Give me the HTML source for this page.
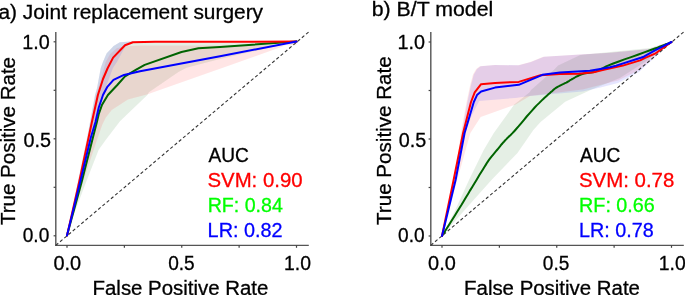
<!DOCTYPE html>
<html><head><meta charset="utf-8">
<style>
html,body{margin:0;padding:0;background:#fff;width:685px;height:295px;overflow:hidden}
svg{display:block;will-change:transform}
text{font-family:"Liberation Sans",sans-serif;font-size:20px;stroke:currentColor;stroke-width:0.3px}
</style></head><body>
<svg width="685" height="295" viewBox="0 0 685 295">
<polygon fill="#006400" fill-opacity="0.1" points="67.0,235.6 78.0,181.0 87.0,138.0 90.0,122.0 95.0,95.0 97.0,88.0 100.7,68.0 102.9,62.0 106.5,53.6 113.5,46.1 119.7,42.2 130.0,41.6 296.5,41.6 296.5,41.6 220.0,59.0 186.7,67.8 178.5,72.0 149.0,92.2 147.4,95.0 131.7,110.0 120.0,121.2 105.7,140.0 98.7,149.7 86.5,181.0 71.0,222.0 67.0,235.6"/>
<polygon fill="#ff0000" fill-opacity="0.1" points="67.0,235.6 78.5,181.0 88.0,138.0 91.0,122.0 96.0,95.0 102.0,75.0 105.6,62.0 110.0,54.0 117.0,48.0 125.8,46.2 140.0,45.6 296.5,45.0 296.5,41.6 230.0,65.2 147.0,94.6 128.0,99.5 111.8,110.0 105.7,117.7 102.1,125.3 97.0,140.0 83.4,181.0 67.0,235.6"/>
<polygon fill="#0000ff" fill-opacity="0.1" points="67.0,235.6 78.0,181.0 87.0,138.0 90.0,122.0 95.0,95.0 97.0,88.0 100.7,68.0 102.9,62.0 106.5,53.6 113.5,46.1 119.7,42.2 130.0,41.6 296.5,41.6 296.5,41.6 155.0,42.0 133.0,43.0 125.0,47.0 117.0,62.0 113.0,68.0 103.0,95.0 97.0,115.0 90.0,138.0 80.0,181.0 67.0,235.6"/>
<line x1="55.80" y1="32" x2="55.80" y2="246.1" stroke="#555" stroke-width="1.4"/>
<line x1="55.10" y1="245.4" x2="308.80" y2="245.4" stroke="#555" stroke-width="1.4"/>
<line x1="53.60" y1="235.80" x2="55.80" y2="235.80" stroke="#444" stroke-width="1.2"/>
<line x1="67.00" y1="245.3" x2="67.00" y2="247.8" stroke="#444" stroke-width="1.2"/>
<line x1="53.60" y1="187.30" x2="55.80" y2="187.30" stroke="#444" stroke-width="1.2"/>
<line x1="124.38" y1="245.3" x2="124.38" y2="247.8" stroke="#444" stroke-width="1.2"/>
<line x1="53.60" y1="138.80" x2="55.80" y2="138.80" stroke="#444" stroke-width="1.2"/>
<line x1="181.75" y1="245.3" x2="181.75" y2="247.8" stroke="#444" stroke-width="1.2"/>
<line x1="53.60" y1="90.30" x2="55.80" y2="90.30" stroke="#444" stroke-width="1.2"/>
<line x1="239.12" y1="245.3" x2="239.12" y2="247.8" stroke="#444" stroke-width="1.2"/>
<line x1="53.60" y1="41.80" x2="55.80" y2="41.80" stroke="#444" stroke-width="1.2"/>
<line x1="296.50" y1="245.3" x2="296.50" y2="247.8" stroke="#444" stroke-width="1.2"/>
<line x1="55.80" y1="245.3" x2="308.80" y2="31.9" stroke="#333" stroke-width="1.1" stroke-dasharray="3.2,2.35"/>
<polyline fill="none" stroke="#006400" stroke-width="2.0" stroke-linejoin="round" stroke-linecap="round" points="67.0,235.6 81.9,181.0 92.8,138.0 96.9,122.0 98.7,114.2 101.9,105.1 107.9,95.0 117.3,85.0 125.0,76.3 136.2,69.7 144.7,64.9 181.5,52.0 198.4,48.3 220.0,47.0 296.5,41.6"/>
<polyline fill="none" stroke="#ff0000" stroke-width="2.0" stroke-linejoin="round" stroke-linecap="round" points="67.0,235.6 79.4,181.0 88.5,138.0 91.9,122.0 97.9,95.0 103.0,79.0 107.5,68.5 113.1,57.6 125.0,45.2 132.9,42.3 155.0,41.7 296.5,41.6"/>
<polyline fill="none" stroke="#0000ff" stroke-width="2.0" stroke-linejoin="round" stroke-linecap="round" points="67.0,235.6 80.4,181.0 90.7,138.0 95.5,122.0 98.7,107.8 103.0,95.0 107.1,87.2 113.5,79.9 124.0,74.9 140.0,71.3 220.0,56.2 296.5,41.6"/>
<polygon fill="#006400" fill-opacity="0.1" points="442.0,236.0 455.3,210.0 469.0,180.0 483.7,150.0 493.8,133.0 514.2,104.6 529.6,92.2 531.0,90.0 553.4,70.2 558.0,65.5 580.2,55.0 610.0,52.0 650.0,48.0 665.0,43.2 671.5,42.0 671.5,42.0 645.0,62.0 620.0,78.0 591.7,89.4 565.2,101.7 540.6,122.0 533.4,130.0 517.5,152.9 491.5,180.0 465.6,209.0 442.0,236.0"/>
<polygon fill="#ff0000" fill-opacity="0.1" points="441.2,236.0 454.2,182.0 460.9,133.0 466.6,102.0 470.2,85.0 473.0,74.5 476.2,69.0 479.8,66.2 494.2,64.9 518.1,65.3 530.2,62.0 543.2,56.8 579.2,54.6 609.2,52.7 649.2,49.0 664.6,43.5 670.7,42.0 671.5,42.0 639.0,70.0 618.1,80.6 600.5,85.0 582.9,89.4 530.0,96.0 515.7,104.6 480.7,117.0 470.4,133.0 456.7,182.0 442.0,236.0"/>
<polygon fill="#0000ff" fill-opacity="0.1" points="442.0,236.0 455.0,182.0 461.7,133.0 467.4,102.0 471.0,85.0 473.8,74.5 477.0,69.0 480.6,66.2 495.0,64.9 518.9,65.3 531.0,62.0 544.0,56.8 580.0,54.6 610.0,52.7 650.0,49.0 665.4,43.5 671.5,42.0 671.5,42.0 639.0,72.0 618.1,83.0 600.5,87.5 582.9,91.5 530.0,96.0 515.7,98.0 479.2,100.9 472.0,115.0 465.0,133.0 455.0,182.0 442.0,236.0"/>
<line x1="430.80" y1="32" x2="430.80" y2="246.1" stroke="#555" stroke-width="1.4"/>
<line x1="430.10" y1="245.4" x2="683.80" y2="245.4" stroke="#555" stroke-width="1.4"/>
<line x1="428.60" y1="236.00" x2="430.80" y2="236.00" stroke="#444" stroke-width="1.2"/>
<line x1="442.00" y1="245.3" x2="442.00" y2="247.8" stroke="#444" stroke-width="1.2"/>
<line x1="428.60" y1="187.50" x2="430.80" y2="187.50" stroke="#444" stroke-width="1.2"/>
<line x1="499.38" y1="245.3" x2="499.38" y2="247.8" stroke="#444" stroke-width="1.2"/>
<line x1="428.60" y1="139.00" x2="430.80" y2="139.00" stroke="#444" stroke-width="1.2"/>
<line x1="556.75" y1="245.3" x2="556.75" y2="247.8" stroke="#444" stroke-width="1.2"/>
<line x1="428.60" y1="90.50" x2="430.80" y2="90.50" stroke="#444" stroke-width="1.2"/>
<line x1="614.12" y1="245.3" x2="614.12" y2="247.8" stroke="#444" stroke-width="1.2"/>
<line x1="428.60" y1="42.00" x2="430.80" y2="42.00" stroke="#444" stroke-width="1.2"/>
<line x1="671.50" y1="245.3" x2="671.50" y2="247.8" stroke="#444" stroke-width="1.2"/>
<line x1="430.80" y1="245.3" x2="683.80" y2="31.9" stroke="#333" stroke-width="1.1" stroke-dasharray="3.2,2.35"/>
<polyline fill="none" stroke="#006400" stroke-width="2.0" stroke-linejoin="round" stroke-linecap="round" points="442.0,236.0 444.2,232.5 446.4,229.0 448.6,225.5 450.8,222.0 453.0,218.5 455.2,215.0 457.3,211.5 459.5,208.0 461.7,204.5 463.8,200.9 466.0,197.3 468.2,193.7 470.3,190.1 472.4,186.7 474.5,183.3 476.5,180.0 478.1,177.3 479.7,174.6 481.3,172.0 482.9,169.4 484.4,167.0 485.9,164.6 487.3,162.3 488.8,160.2 489.9,158.7 490.9,157.4 491.9,156.1 493.0,154.8 494.0,153.6 495.0,152.4 496.0,151.2 497.0,150.0 498.0,148.8 499.0,147.6 500.0,146.4 500.9,145.2 501.9,144.0 502.9,142.8 504.0,141.7 505.0,140.5 506.1,139.4 507.1,138.3 508.2,137.3 509.2,136.3 510.4,135.2 511.5,134.1 512.7,132.9 514.0,131.5 516.2,129.0 518.7,126.2 521.3,123.1 524.0,119.8 526.7,116.5 529.5,113.3 532.2,110.3 534.7,107.5 536.7,105.4 538.8,103.4 540.8,101.4 542.8,99.4 544.8,97.6 546.6,95.9 548.4,94.3 550.0,92.9 550.9,92.1 551.7,91.4 552.5,90.7 553.2,90.0 553.9,89.4 554.7,88.8 555.5,88.2 556.4,87.6 557.6,86.8 559.0,86.1 560.5,85.3 562.0,84.6 563.6,83.9 565.0,83.2 566.3,82.6 567.4,82.0 568.0,81.7 568.4,81.4 568.9,81.1 569.3,80.8 569.7,80.5 570.1,80.2 570.6,79.9 571.2,79.6 572.3,79.0 573.5,78.3 574.9,77.5 576.3,76.7 577.8,76.0 579.3,75.2 580.9,74.6 582.4,74.0 584.0,73.5 585.7,73.2 587.3,72.9 589.1,72.7 590.8,72.5 592.5,72.2 594.2,71.9 595.8,71.4 597.3,70.8 598.7,70.2 600.1,69.6 601.4,68.8 602.9,68.1 604.4,67.3 606.1,66.4 608.0,65.6 612.6,63.8 618.1,61.7 624.4,59.4 631.1,57.1 637.8,54.7 644.2,52.4 650.1,50.3 655.0,48.5 657.5,47.6 659.7,46.7 661.8,45.9 663.8,45.1 665.7,44.3 667.6,43.6 669.5,42.8 671.5,42.0"/>
<polyline fill="none" stroke="#ff0000" stroke-width="2.0" stroke-linejoin="round" stroke-linecap="round" points="442.0,236.0 453.2,182.0 463.1,133.0 471.0,102.0 474.7,92.4 481.1,84.2 495.0,82.9 518.7,81.9 540.5,75.3 560.0,74.0 578.7,73.7 593.6,72.2 604.8,69.6 622.9,65.6 640.1,60.4 644.6,58.2 655.0,53.7 671.5,42.0"/>
<polyline fill="none" stroke="#0000ff" stroke-width="2.0" stroke-linejoin="round" stroke-linecap="round" points="442.0,236.0 455.6,180.0 464.6,133.0 473.8,102.0 477.0,95.1 481.1,91.5 495.0,87.6 518.7,84.8 542.4,74.8 560.0,72.6 589.9,70.7 598.8,69.2 610.0,67.3 616.2,65.6 640.8,57.8 643.8,56.7 655.0,50.3 671.5,42.0"/>
<text x="-1.59" y="18.80" font-size="21.43" textLength="264.64" lengthAdjust="spacingAndGlyphs">a) Joint replacement surgery</text>
<text x="22.22" y="48.50" font-size="20.00" textLength="27.47" lengthAdjust="spacingAndGlyphs">1.0</text>
<text x="23.41" y="146.50" font-size="20.00" textLength="27.48" lengthAdjust="spacingAndGlyphs">0.5</text>
<text x="22.74" y="242.00" font-size="20.00" textLength="26.53" lengthAdjust="spacingAndGlyphs">0.0</text>
<text x="53.40" y="270.00" font-size="20.00" textLength="27.70" lengthAdjust="spacingAndGlyphs">0.0</text>
<text x="168.14" y="270.00" font-size="20.00" textLength="26.53" lengthAdjust="spacingAndGlyphs">0.5</text>
<text x="284.05" y="270.00" font-size="20.00" textLength="26.93" lengthAdjust="spacingAndGlyphs">1.0</text>
<text x="92.57" y="294.50" font-size="21.29" textLength="175.75" lengthAdjust="spacingAndGlyphs">False Positive Rate</text>
<text transform="translate(15.20,225.01) rotate(-90)" font-size="21.29" textLength="168.01" lengthAdjust="spacingAndGlyphs">True Positive Rate</text>
<text x="208.40" y="161.60" font-size="21.29" textLength="40.39" lengthAdjust="spacingAndGlyphs">AUC</text>
<text x="207.48" y="186.70" font-size="21.29" textLength="95.11" lengthAdjust="spacingAndGlyphs" fill="#ff0000" style="color:#ff0000">SVM: 0.90</text>
<text x="207.63" y="211.90" font-size="21.29" textLength="75.26" lengthAdjust="spacingAndGlyphs" fill="#00ff00" style="color:#00ff00">RF: 0.84</text>
<text x="207.62" y="236.90" font-size="21.29" textLength="74.88" lengthAdjust="spacingAndGlyphs" fill="#0000ff" style="color:#0000ff">LR: 0.82</text>
<text x="371.71" y="16.30" font-size="21.43" textLength="121.50" lengthAdjust="spacingAndGlyphs">b) B/T model</text>
<text x="397.52" y="48.50" font-size="20.00" textLength="27.47" lengthAdjust="spacingAndGlyphs">1.0</text>
<text x="398.71" y="146.50" font-size="20.00" textLength="27.48" lengthAdjust="spacingAndGlyphs">0.5</text>
<text x="398.04" y="242.00" font-size="20.00" textLength="26.53" lengthAdjust="spacingAndGlyphs">0.0</text>
<text x="428.10" y="270.00" font-size="20.00" textLength="27.70" lengthAdjust="spacingAndGlyphs">0.0</text>
<text x="542.84" y="270.00" font-size="20.00" textLength="26.53" lengthAdjust="spacingAndGlyphs">0.5</text>
<text x="658.75" y="270.00" font-size="20.00" textLength="26.93" lengthAdjust="spacingAndGlyphs">1.0</text>
<text x="464.07" y="294.50" font-size="21.29" textLength="175.85" lengthAdjust="spacingAndGlyphs">False Positive Rate</text>
<text transform="translate(390.50,225.01) rotate(-90)" font-size="21.29" textLength="168.71" lengthAdjust="spacingAndGlyphs">True Positive Rate</text>
<text x="579.90" y="161.60" font-size="21.29" textLength="40.39" lengthAdjust="spacingAndGlyphs">AUC</text>
<text x="578.98" y="186.70" font-size="21.29" textLength="95.32" lengthAdjust="spacingAndGlyphs" fill="#ff0000" style="color:#ff0000">SVM: 0.78</text>
<text x="579.12" y="211.90" font-size="21.29" textLength="75.67" lengthAdjust="spacingAndGlyphs" fill="#00ff00" style="color:#00ff00">RF: 0.66</text>
<text x="579.12" y="236.90" font-size="21.29" textLength="74.68" lengthAdjust="spacingAndGlyphs" fill="#0000ff" style="color:#0000ff">LR: 0.78</text>
</svg>
</body></html>
